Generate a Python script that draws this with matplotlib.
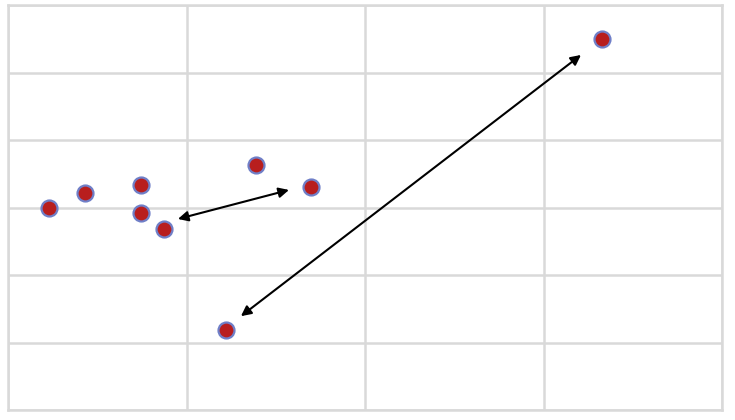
import matplotlib
matplotlib.use("Agg")
import matplotlib.pyplot as plt

# Data
x_vals = [0.23, 0.43, 0.745, 0.745, 0.874, 1.39, 1.70, 3.33, 1.22]
y_vals = [3.00, 3.21, 3.33, 2.92, 2.68, 3.63, 3.30, 5.50, 1.185]

# double-headed arrows: (x_start, y_start, x_end, y_end)
arrow1 = [0.952, 2.83, 1.574, 3.26]
arrow2 = [1.305, 1.39, 3.21, 5.26]

fig = plt.figure(figsize=(7.35, 4.2), dpi=100)
ax = fig.add_axes([8/735, 10/420, (722-8)/735, (410-5)/420])

ax.set_xlim(0, 4)
ax.set_ylim(0, 6)
ax.set_xticks([0, 1, 2, 3, 4])
ax.set_yticks([0, 1, 2, 3, 4, 5, 6])
ax.tick_params(length=0, labelbottom=False, labelleft=False)
ax.grid(True, color="#d9d9d9", linewidth=1.8)
ax.set_axisbelow(True)
for s in ax.spines.values():
    s.set_color("#d9d9d9")
    s.set_linewidth(1.8)

for a in (arrow1, arrow2):
    ax.annotate("", xy=(a[2], a[3]), xytext=(a[0], a[1]),
                arrowprops=dict(arrowstyle="<|-|>", color="black", lw=1.5,
                                mutation_scale=15, shrinkA=0, shrinkB=0))

ax.plot(x_vals, y_vals, linestyle="none", marker="o", markersize=11.5,
        markerfacecolor="#b81e1e", markeredgecolor="#6f7fc8", markeredgewidth=1.6,
        zorder=3)

fig.savefig("out.png", dpi=100)
